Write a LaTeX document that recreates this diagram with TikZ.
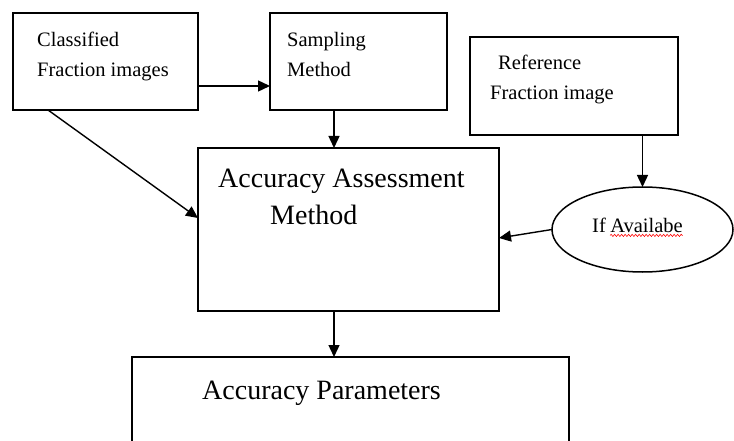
\documentclass[tikz,border=0pt]{standalone}
\usepackage{fontspec}
\setmainfont{Liberation Serif}
\usetikzlibrary{arrows.meta,shapes.geometric,calc,decorations.pathmorphing}
\begin{document}
\begin{tikzpicture}[x=1pt,y=-1pt,
  box/.style={draw,line width=1.5pt,rectangle,inner sep=0pt,outer sep=0pt},
  oval/.style={draw,line width=1.5pt,ellipse,inner sep=0pt,outer sep=0pt},
  arr/.style={line width=1.4pt,-{Triangle[length=12pt,width=11pt]}},
  small/.style={inner sep=0pt,anchor=base west,font=\fontsize{20.5}{24}\selectfont},
  big/.style={inner sep=0pt,anchor=base west,font=\fontsize{28}{32}\selectfont}]
\clip (0,0) rectangle (734,441);
\fill[white] (0,0) rectangle (734,441);
% boxes
\node[box,minimum width=185pt,minimum height=97pt] (b1) at (105.5,61.5) {};
\node[box,minimum width=177pt,minimum height=97pt] (b2) at (358.5,61.5) {};
\node[box,minimum width=208pt,minimum height=98pt] (b3) at (574,86) {};
\node[box,minimum width=301pt,minimum height=163pt] (aam) at (348.5,229.5) {};
\node[oval,minimum width=181pt,minimum height=85pt] (e) at (642.5,229.5) {};
\node[box,minimum width=437pt,minimum height=113pt] (ap) at (350.5,413.5) {};
% texts
\node[small] (t1a) at (37,47) {Classified};
\node[small] (t1b) at (37,77) {Fraction images};
\node[small] (t2a) at (287,47) {Sampling};
\node[small] (t2b) at (287,77) {Method};
\node[small] (t3a) at (498,70) {Reference};
\node[small] (t3b) at (490,100) {Fraction image};
\node[big] (t4a) at (218,187) {Accuracy Assessment};
\node[big] (t4b) at (270,225) {Method};
\node[small] (t5a) at (592,232) {If};
\node[small,anchor=base west] (t5b) at ($(t5a.base east)+(4,0)$) {Availabe};
\draw[red,line width=0.6pt,decorate,decoration={snake,amplitude=1.1pt,segment length=3.5pt}]
  ($(t5b.south west)+(0,3)$) -- ($(t5b.south east)+(0,3)$);
\node[big] (t6) at (202,399) {Accuracy Parameters};
% connectors
\draw[arr] ($(b1.north east)+(0,73)$) -- ($(b2.north west)+(0,73)$);
\draw[arr] ($(b2.south west)+(64,0)$) coordinate (c1) -- (c1 |- aam.north);
\draw[arr] ($(b1.south west)+(35,0)$) -- ($(aam.north west)+(0,70)$);
\draw[arr] (e.north |- b3.south) -- (e.north);
\draw[arr] (e.west) -- ($(aam.north east)+(0,90)$);
\draw[arr] ($(aam.south west)+(136,0)$) coordinate (c2) -- (c2 |- ap.north);
\end{tikzpicture}
\end{document}
